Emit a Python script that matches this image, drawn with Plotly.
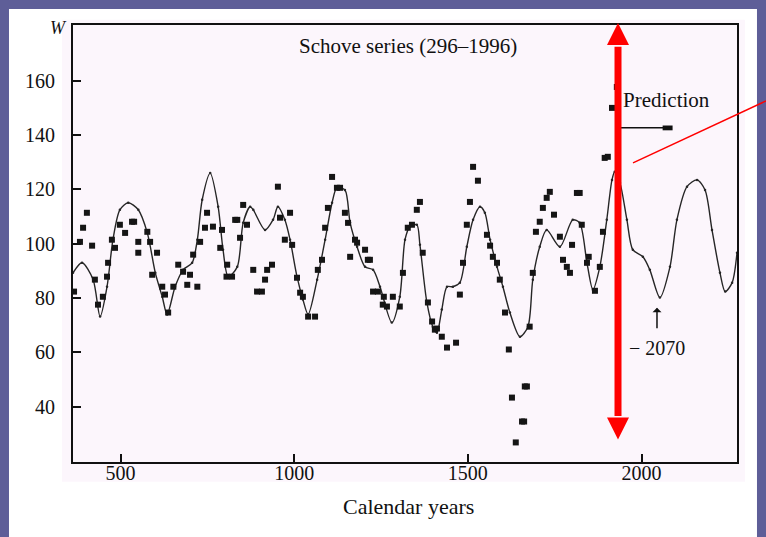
import plotly.graph_objects as go

# Smoothed / predicted curve (calendar year, W)
fit_year = [363, 389, 421, 441, 461, 478, 498, 522, 551, 577, 600, 620, 634, 657, 680, 706, 721, 735,
            758, 781, 795, 810, 836, 853, 873, 882, 916, 939, 953, 973, 988, 1008, 1025, 1040, 1066,
            1089, 1109, 1123, 1146, 1161, 1181, 1204, 1227, 1247, 1281, 1304, 1319, 1333, 1353, 1362,
            1382, 1399, 1411, 1425, 1440, 1457, 1477, 1497, 1515, 1535, 1549, 1564, 1584, 1601, 1621,
            1650, 1673, 1687, 1707, 1727, 1765, 1802, 1822, 1843, 1860, 1880, 1900, 1915, 1923, 1938,
            1958, 1975, 2004, 2024, 2053, 2082, 2102, 2131, 2160, 2183, 2203, 2226, 2241, 2261, 2275]
fit_w = [89.3, 93, 86.8, 73.2, 84.2, 101.5, 112.5, 115.1, 112.5, 104, 89.3, 80.5, 74, 84.2, 90.4, 93,
         101.5, 116.2, 126, 113.6, 97.8, 87.9, 91.5, 107.7, 113.6, 112.5, 105.1, 108.8, 113.6, 108.8,
         101.5, 87.9, 79.5, 74, 86.8, 101.5, 115.1, 120.6, 119.8, 107.7, 98.9, 91.5, 90.4, 84.2, 71,
         80.5, 101.5, 106.3, 107, 99.6, 78.4, 69.5, 67.3, 75.8, 84.2, 84.2, 85.7, 98.9, 108.8, 113.6,
         111.4, 101.5, 91.5, 84.2, 74.7, 65.8, 69.5, 86.8, 98.9, 105.1, 98.9, 108.8, 107.7, 93, 83.1,
         91.5, 108.8, 123.5, 126.5, 122.4, 108.8, 97.8, 95.2, 90.4, 80.2, 91.5, 108.8, 121, 123.5,
         119.8, 105.1, 89.3, 82.4, 85.7, 96.7]

# Schove series observations (calendar year, W)
obs_year = [366, 383, 392, 403, 418, 426, 435, 449, 461, 464, 475, 484, 498, 513, 533, 539, 551, 551,
            577, 585, 591, 605, 620, 628, 637, 652, 666, 680, 692, 700, 709, 721, 729, 743, 749, 766,
            787, 792, 805, 807, 821, 830, 836, 844, 853, 864, 882, 893, 907, 916, 922, 936, 953, 959,
            973, 988, 994, 1008, 1017, 1025, 1040, 1060, 1068, 1080, 1089, 1097, 1109, 1123, 1132,
            1146, 1155, 1161, 1175, 1181, 1204, 1212, 1218, 1227, 1241, 1255, 1258, 1267, 1284, 1304,
            1313, 1327, 1339, 1353, 1362, 1370, 1385, 1397, 1405, 1411, 1425, 1440, 1466, 1477, 1486,
            1497, 1506, 1515, 1529, 1555, 1564, 1572, 1584, 1592, 1607, 1618, 1627, 1638, 1656, 1662,
            1664, 1670, 1678, 1687, 1696, 1707, 1716, 1727, 1736, 1748, 1765, 1774, 1785, 1794, 1800,
            1814, 1822, 1828, 1843, 1848, 1866, 1880, 1889, 1894, 1903, 1915, 1929]
obs_w = [82.4, 100.7, 105.9, 111.4, 99.3, 86.8, 77.6, 80.5, 87.9, 93, 101.5, 98.5, 107, 104, 108.1,
         108.1, 100.7, 96.7, 104.4, 100.7, 88.6, 96.7, 84.2, 81.3, 74.7, 84.2, 92.3, 89.7, 84.9, 88.6,
         96, 84.2, 100.7, 105.9, 111.4, 106.3, 98.5, 105.1, 87.9, 92.3, 87.9, 108.8, 108.8, 102.2,
         114.3, 107, 90.4, 82.4, 82.4, 86.8, 90.4, 92.3, 121, 109.6, 101.5, 111.4, 99.6, 87.5, 82,
         80.5, 73.2, 73.2, 90.4, 94.1, 105.9, 113.2, 124.6, 120.6, 120.6, 111.4, 107.7, 95.2, 101.5,
         100.4, 97.8, 94.1, 94.1, 82.4, 82.4, 77.6, 80.5, 76.9, 80.5, 76.9, 89.3, 105.9, 107, 112.5,
         115.4, 96.7, 78.4, 71.4, 68.4, 68.8, 65.8, 61.8, 63.6, 81.3, 93, 107, 115.4, 128.3, 123.2,
         103.3, 99.3, 95.2, 93, 86.8, 74.7, 61.1, 43.4, 26.9, 34.6, 34.6, 47.5, 47.5, 69.5, 89.3,
         104.4, 108.1, 113.2, 116.9, 119.1, 110.7, 102.6, 94.1, 91.5, 89.3, 99.6, 118.7, 118.7, 107,
         93, 95.2, 82.7, 91.5, 104.4, 131.6, 132, 150, 157.7]

x_ticks = [500, 1000, 1500, 2000]
y_ticks = [40, 60, 80, 100, 120, 140, 160]

SERIF = "Liberation Serif, Times New Roman, serif"
RED = "#ff0000"
INK = "#111111"

fig = go.Figure()
fig.add_trace(go.Scatter(
    x=fit_year, y=fit_w, mode="lines+markers",
    line=dict(color="#262626", width=1.4, shape="spline", smoothing=0.8),
    marker=dict(size=2.5, color="#262626"), hoverinfo="skip", showlegend=False))
fig.add_trace(go.Scatter(
    x=obs_year, y=obs_w, mode="markers",
    marker=dict(symbol="square", size=6, color="#151515"), showlegend=False))

shapes = []
# white slide panel and pinkish figure background
shapes.append(dict(type="rect", xref="paper", yref="paper", x0=-0.0964, x1=1.0301, y0=-0.25, y1=1.0366,
                   fillcolor="#ffffff", line=dict(width=0), layer="below"))
shapes.append(dict(type="rect", xref="paper", yref="paper", x0=-0.0166, x1=1.012, y0=-0.045, y1=1.012,
                   fillcolor="#fcf6fc", line=dict(width=0), layer="below"))
# Prediction pointer line
shapes.append(dict(type="line", xref="paper", yref="paper", x0=0.8238, x1=0.9021, y0=0.7646, y1=0.7646,
                   line=dict(color=INK, width=1.5)))
shapes.append(dict(type="rect", xref="paper", yref="paper", x0=0.888, x1=0.903, y0=0.759, y1=0.770,
                   fillcolor=INK, line=dict(width=0)))
# red thick double arrow
xc = 0.8208
hw = 0.0166
shapes.append(dict(type="line", xref="paper", yref="paper", x0=xc, x1=xc, y0=0.105, y1=0.950,
                   line=dict(color=RED, width=7)))
shapes.append(dict(type="path", xref="paper", yref="paper",
                   path=f"M {xc-hw} 0.9543 L {xc+hw} 0.9543 L {xc} 1.0046 Z",
                   fillcolor=RED, line=dict(width=0)))
shapes.append(dict(type="path", xref="paper", yref="paper",
                   path=f"M {xc-hw} 0.1017 L {xc+hw} 0.1017 L {xc} 0.0514 Z",
                   fillcolor=RED, line=dict(width=0)))
# thin red pointer line
shapes.append(dict(type="line", xref="paper", yref="paper", x0=0.8434, y0=0.6846, x1=1.0437, y1=0.8263,
                   line=dict(color=RED, width=1.5)))

annotations = [
    dict(text="Schove series (296–1996)", xref="paper", yref="paper", x=0.5045, y=0.952,
         xanchor="center", yanchor="middle", showarrow=False, font=dict(family=SERIF, size=21, color=INK)),
    dict(text="<i>W</i>", xref="paper", yref="paper", x=-0.022, y=0.993,
         xanchor="center", yanchor="middle", showarrow=False, font=dict(family=SERIF, size=18, color=INK)),
    dict(text="Prediction", xref="paper", yref="paper", x=0.8255, y=0.8286,
         xanchor="left", yanchor="middle", showarrow=False, font=dict(family=SERIF, size=21, color=INK)),
    dict(text="− 2070", xref="paper", yref="paper", x=0.8345, y=0.2617,
         xanchor="left", yanchor="middle", showarrow=False, font=dict(family=SERIF, size=20, color=INK)),
    dict(text="", xref="paper", yref="paper", x=0.8795, y=0.3531, ax=0, ay=22,
         showarrow=True, arrowhead=1, arrowwidth=1.5, arrowsize=1, arrowcolor=INK),
    dict(text="Calendar years", xref="paper", yref="paper", x=0.505, y=-0.102,
         xanchor="center", yanchor="middle", showarrow=False, font=dict(family=SERIF, size=22, color=INK)),
]

axis_common = dict(showline=True, linecolor=INK, linewidth=2, mirror=True, ticks="inside",
                   ticklen=8, tickwidth=2, tickcolor=INK, showgrid=False, zeroline=False,
                   tickfont=dict(family=SERIF, size=20, color=INK))

fig.update_layout(
    width=766, height=537,
    margin=dict(l=73, r=29, t=25, b=75),
    paper_bgcolor="#5e5e98",
    plot_bgcolor="#fcf6fc",
    shapes=shapes,
    annotations=annotations,
    xaxis=dict(range=[363, 2275], tickvals=x_ticks, ticklabelstandoff=-8, **axis_common),
    yaxis=dict(range=[19.7, 180.5], tickvals=y_ticks, ticklabelstandoff=12, **axis_common),
)

fig.write_html("out.html")
